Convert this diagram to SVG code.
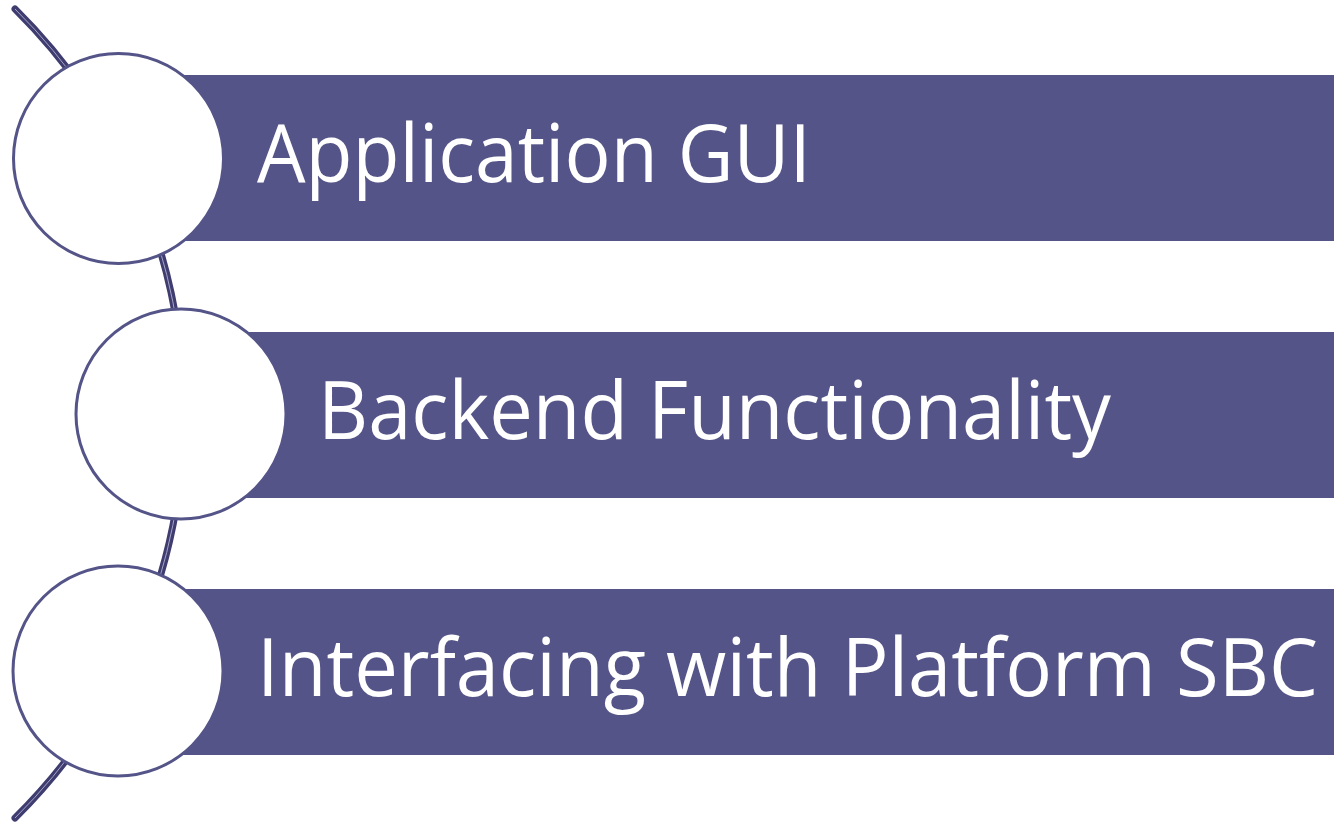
<svg xmlns="http://www.w3.org/2000/svg" width="1334" height="822" viewBox="0 0 1334 822">
<style>
.bar{fill:#545488}
.circ{fill:#ffffff;stroke:#545488;stroke-width:3}
.lbl{font-family:"Open Sans","Noto Sans",sans-serif;font-size:80px;fill:#ffffff}
.rail{fill:none;stroke:#3f3d70;stroke-width:7;stroke-linecap:round}
.railc{fill:none;stroke:#a6a4c8;stroke-width:1}
</style>
<rect width="1334" height="822" fill="#ffffff"/>
<g id="connectors">
<path class="rail" d="M 15 9 A 568.7 568.7 0 0 1 15 818"/>
<path class="railc" d="M 15 9 A 568.7 568.7 0 0 1 15 818"/>
</g>
<g id="node1">
<rect class="bar" x="118" y="75" width="1216" height="166"/>
<circle class="circ" cx="118.5" cy="158.5" r="105"/>
<text class="lbl" x="257" y="182" textLength="554" lengthAdjust="spacingAndGlyphs">Application GUI</text>
</g>
<g id="node2">
<rect class="bar" x="181" y="332" width="1153" height="166"/>
<circle class="circ" cx="181" cy="414" r="105"/>
<text class="lbl" x="318" y="439" textLength="793" lengthAdjust="spacingAndGlyphs">Backend Functionality</text>
</g>
<g id="node3">
<rect class="bar" x="118" y="589" width="1216" height="166"/>
<circle class="circ" cx="118" cy="671" r="105"/>
<text class="lbl" x="257" y="696" textLength="1061" lengthAdjust="spacingAndGlyphs">Interfacing with Platform SBC</text>
</g>
</svg>
